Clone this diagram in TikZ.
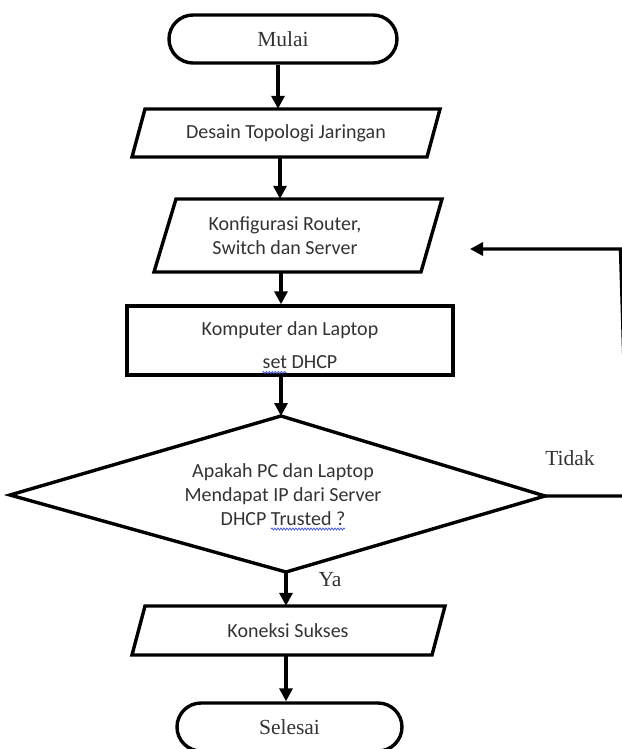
\documentclass[tikz,border=0pt]{standalone}
\usepackage{fontspec}
\setmainfont{Liberation Serif}
\newfontfamily\calfont{Carlito}
\usetikzlibrary{arrows.meta,decorations.pathmorphing}
\definecolor{squigblue}{RGB}{70,90,230}
\begin{document}
\begin{tikzpicture}[x=1pt,y=-1pt,
  shapeline/.style={line width=3.4pt, line join=miter},
  arr/.style={line width=3.4pt, -{Triangle[length=13pt,width=13pt]}},
  ctext/.style={font=\calfont\fontsize{20}{24}\selectfont, text=black!80, inner sep=0pt, align=center},
  ttext/.style={font=\fontsize{21.5}{25}\selectfont, text=black!80, inner sep=0pt},
  squig/.style={draw=squigblue, line width=0.8pt, decorate, decoration={snake, amplitude=1pt, segment length=3pt}}]
\path[use as bounding box] (0,0) rectangle (621,749);

% Mulai
\node[draw, shapeline, rounded corners=24pt, minimum width=228pt, minimum height=48pt, ttext] (mulai) at (283,39) {Mulai};

% Desain Topologi Jaringan
\node[ctext, minimum width=282pt, minimum height=48pt] (desain) at (286,133) {Desain Topologi Jaringan};
\draw[shapeline] (145,109) -- (440,109) -- (427,157) -- (132,157) -- cycle;

% Konfigurasi
\node[ctext, minimum width=250pt, minimum height=73pt] (konfig) at (285,235.5) {Konfigurasi Router,\\Switch dan Server};
\draw[shapeline] (176,199) -- (442,199) -- (421,272) -- (154,272) -- cycle;

% Komputer dan Laptop
\node[draw, shapeline, minimum width=326pt, minimum height=69pt, inner sep=0pt] (komp) at (290,340.5) {};
\node[ctext] (komp1) at (290,330) {Komputer dan Laptop};
\node[ctext] (komp2) at (300,362) {set DHCP};
\draw[squig] ([yshift=-4pt]komp2.base west) -- ++(24,0);

% Decision
\coordinate (dtop) at (281,416);
\coordinate (dright) at (545,496);
\coordinate (dbot) at (286,572);
\coordinate (dleft) at (10,495);
\draw[shapeline] (dtop) -- (dright) -- (dbot) -- (dleft) -- cycle;
\node[ctext] (quest) at (283,494.5) {Apakah PC dan Laptop\\Mendapat IP dari Server\\DHCP Trusted ?};
\draw[squig] (271,529) -- (345,529);

% Koneksi Sukses
\node[ctext, minimum width=287pt, minimum height=49pt] (kon) at (288,630.5) {Koneksi Sukses};
\draw[shapeline] (145,606) -- (445,606) -- (432,655) -- (132,655) -- cycle;

% Selesai
\node[draw, shapeline, rounded corners=24pt, minimum width=225pt, minimum height=48pt, ttext] (sel) at (289.5,727) {Selesai};

% labels
\node[ttext] (tidak) at (570,458) {Tidak};
\node[ttext] (ya) at (330,580) {Ya};

% connectors
\coordinate (ret) at (470,249);
\coordinate (cornerA) at (628,496);
\coordinate (cornerB) at (620.5,249);
\draw[arr] ([xshift=-5pt]mulai.south) -- ([xshift=-8pt]desain.north);
\draw[arr] ([xshift=-6pt]desain.south) -- ([xshift=-5pt]konfig.north);
\draw[arr] ([xshift=-4pt]konfig.south) -- ([xshift=-9pt]komp.north);
\draw[arr] ([xshift=-9pt]komp.south) -- (dtop);
\draw[arr] (dbot) -- (dbot |- kon.north);
\draw[arr] (kon.south -| dbot) -- (sel.north -| dbot);
\draw[arr, line join=miter] (dright) -- (cornerA) -- (cornerB) -- (ret);
\end{tikzpicture}
\end{document}
